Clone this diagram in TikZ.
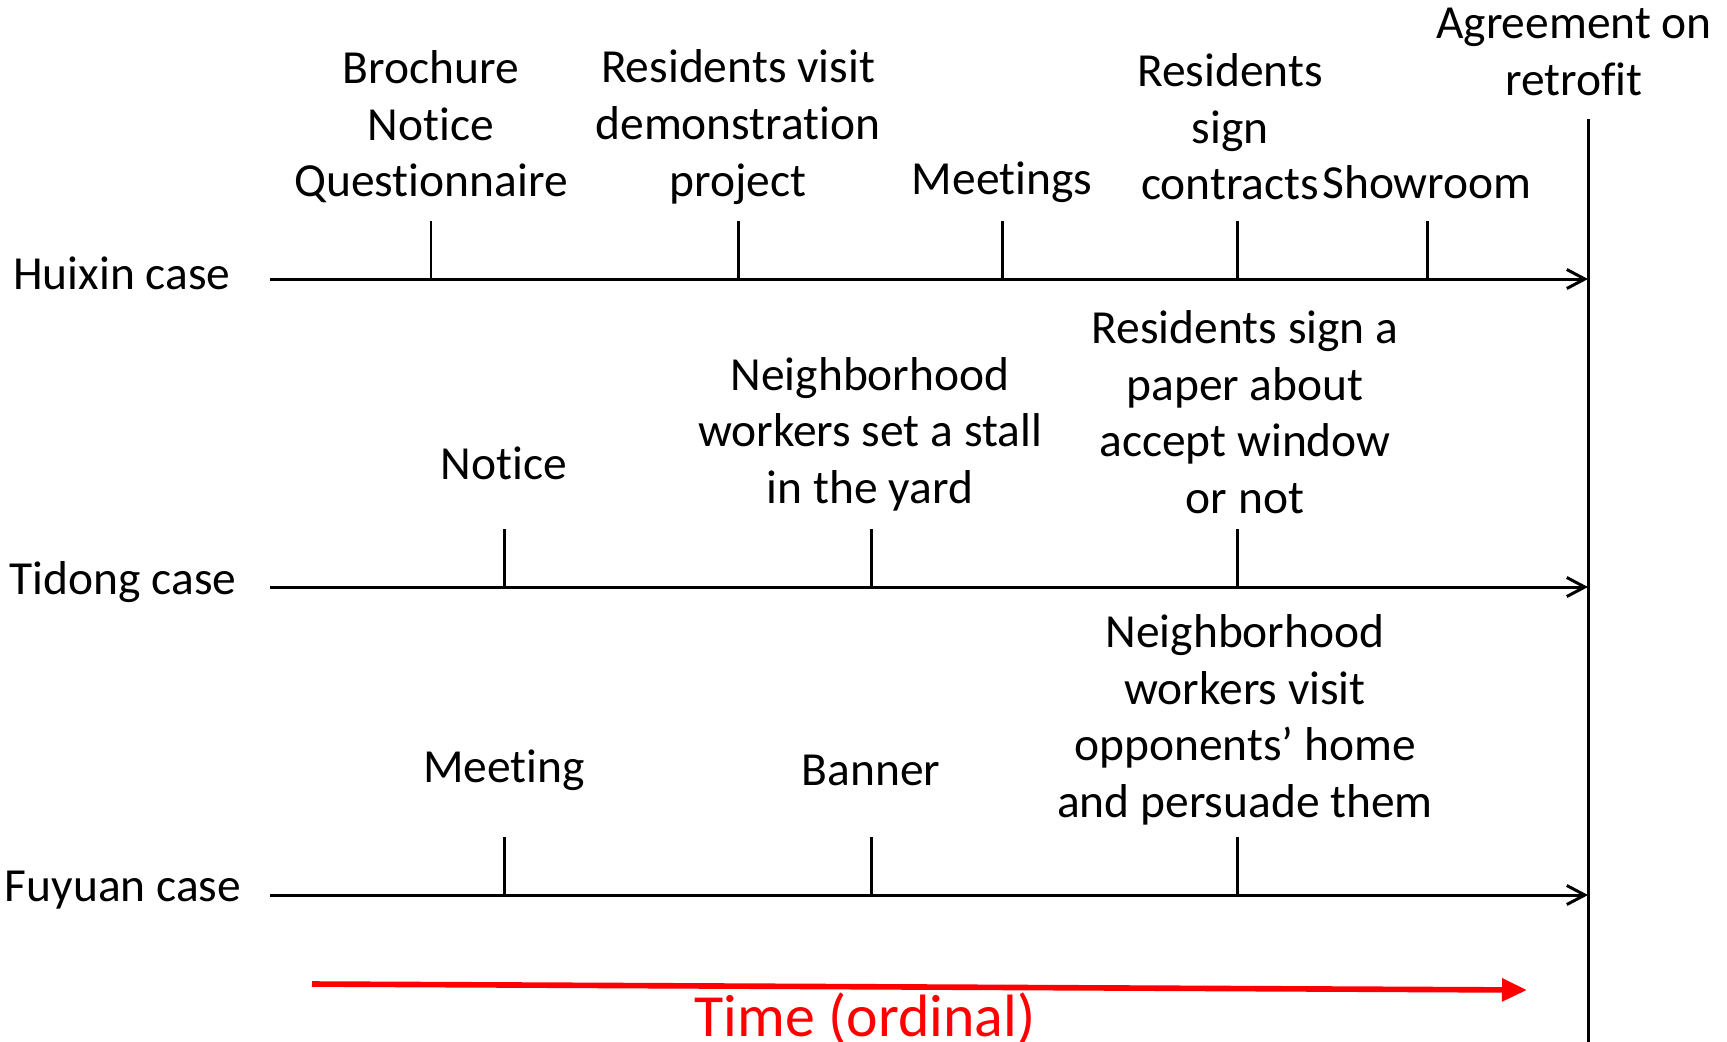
\documentclass[tikz,border=0pt]{standalone}
\usepackage{fontspec}
\setmainfont[Ligatures=CommonOff]{Carlito}
\usetikzlibrary{arrows.meta}
\tikzset{every node/.style={inner sep=0pt,align=center,font=\fontsize{13.5}{16.1}\selectfont}}
\tikzset{cs/.style={}}
\tikzset{ax/.style={line width=0.85pt,-{Straight Barb[length=1.8mm,width=1.9mm]}}}
\tikzset{tk/.style={line width=0.85pt}}
\tikzset{tm/.style={red,line width=1.6pt,-{Triangle[length=2.5mm,width=2.2mm]}}}

\begin{document}
\begin{tikzpicture}[x=0.01cm,y=-0.01cm]
      \useasboundingbox (0,0) rectangle (1727,1041);
      % case labels
      \node[cs] (H) at (122,273) {Huixin case};
      \node[cs] (T) at (123,582) {Tidong case};
      \node[cs] (F) at (123,890) {Fuyuan case};
      % axes
      \coordinate (H0) at (270,279); \coordinate (H1) at (1588,279);
      \coordinate (T0) at (270,587); \coordinate (T1) at (1588,587);
      \coordinate (F0) at (270,895); \coordinate (F1) at (1588,895);
      \draw[ax] (H0) -- (H1);
      \draw[ax] (T0) -- (T1);
      \draw[ax] (F0) -- (F1);
      % agreement line
      \coordinate (V0) at (1588,119); \coordinate (V1) at (1588,1045);
      \draw[tk] (V0) -- (V1);
      \node (A) at (1574,52) {Agreement on\\retrofit};
      % Huixin
      \node (H1l) at (431,127) {Brochure\\Notice\\Questionnaire};
      \node (H2l) at (738,127) {Residents visit\\demonstration\\project};
      \node (H3l) at (1002,182) {Meetings};
      \node (H4l) at (1230,127) {Residents\\sign\\contracts};
      \node (H5l) at (1427,182) {Showroom};
      \coordinate (Ha) at (431,279); \coordinate (Ha') at (431,221);
      \coordinate (Hb) at (738,279); \coordinate (Hb') at (738,221);
      \coordinate (Hc) at (1002,279); \coordinate (Hc') at (1002,221);
      \coordinate (Hd) at (1237,279); \coordinate (Hd') at (1237,221);
      \coordinate (He) at (1427,279); \coordinate (He') at (1427,221);
      \draw[tk] (Ha) -- (Ha');
      \draw[tk] (Hb) -- (Hb');
      \draw[tk] (Hc) -- (Hc');
      \draw[tk] (Hd) -- (Hd');
      \draw[tk] (He) -- (He');
      % Tidong
      \node (T1l) at (504,463) {Notice};
      \node (T2l) at (870,434) {Neighborhood\\workers set a stall\\in the yard};
      \node (T3l) at (1245,412) {Residents sign a\\paper about\\accept window\\or not};
      \coordinate (Ta) at (504,587); \coordinate (Ta') at (504,529);
      \coordinate (Tb) at (871,587); \coordinate (Tb') at (871,529);
      \coordinate (Tc) at (1237,587); \coordinate (Tc') at (1237,529);
      \draw[tk] (Ta) -- (Ta');
      \draw[tk] (Tb) -- (Tb');
      \draw[tk] (Tc) -- (Tc');
      % Fuyuan
      \node (F1l) at (504,770) {Meeting};
      \node (F2l) at (871,770) {Banner};
      \node (F3l) at (1245,720) {Neighborhood\\workers visit\\opponents’ home\\and persuade them};
      \coordinate (Fa) at (504,895); \coordinate (Fa') at (504,837);
      \coordinate (Fb) at (871,895); \coordinate (Fb') at (871,837);
      \coordinate (Fc) at (1237,895); \coordinate (Fc') at (1237,837);
      \draw[tk] (Fa) -- (Fa');
      \draw[tk] (Fb) -- (Fb');
      \draw[tk] (Fc) -- (Fc');
      % time arrow
      \coordinate (t0) at (312,984); \coordinate (t1) at (1527,990);
      \draw[tm] (t0) -- (t1);
      \node[anchor=base,red,font=\fontsize{17}{20}\selectfont] (tl) at (865,1036) {Time (ordinal)};
\end{tikzpicture}
\end{document}
